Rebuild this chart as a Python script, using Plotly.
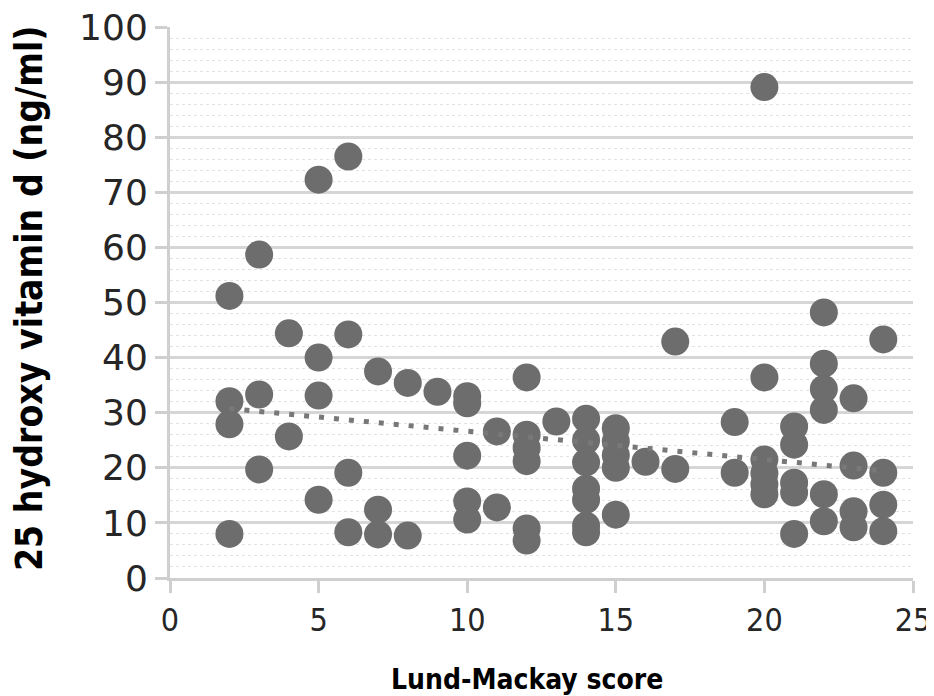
import plotly.graph_objects as go

# Lund-Mackay score (x) and 25 hydroxy vitamin d (y)
lm_score = (
    [2] * 4 + [3] * 3 + [4] * 2 + [5] * 4 + [6] * 4 + [7] * 3 + [8] * 2 + [9] * 1 +
    [10] * 5 + [11] * 2 + [12] * 6 + [13] * 1 + [14] * 7 + [15] * 5 + [16] * 1 +
    [17] * 2 + [19] * 2 + [20] * 6 + [21] * 5 + [22] * 6 + [23] * 4 + [24] * 4
)
vit_d = [
    51.2, 32.1, 27.9, 8.0,
    58.7, 33.3, 19.7,
    44.4, 25.7,
    72.3, 40.0, 33.1, 14.2,
    76.5, 44.2, 19.1, 8.3,
    37.5, 12.4, 7.9,
    35.4, 7.7,
    33.8,
    33.0, 31.7, 22.2, 13.9, 10.6,
    26.6, 12.8,
    36.4, 26.0, 23.6, 21.2, 9.0, 6.8,
    28.4,
    28.9, 25.0, 21.0, 16.2, 14.2, 9.5, 8.3,
    27.2, 24.8, 22.3, 20.0, 11.5,
    21.1,
    42.9, 19.8,
    28.3, 19.1,
    89.1, 36.4, 21.5, 19.0, 17.0, 15.2,
    27.5, 24.2, 17.3, 15.5, 8.0,
    48.2, 38.9, 34.3, 30.5, 15.2, 10.3,
    32.6, 20.4, 12.1, 9.2,
    43.3, 19.1, 13.3, 8.5,
]

# Linear trendline endpoints (as drawn)
trend_x = [2, 24]
trend_y = [30.75, 19.45]

x_ticks = [0, 5, 10, 15, 20, 25]
y_ticks = [0, 10, 20, 30, 40, 50, 60, 70, 80, 90, 100]

x_title = "Lund-Mackay score"
y_title = "25 hydroxy vitamin d (ng/ml)"

# page has an 8px body margin; figure coordinates are page minus 8
L, R, T, B = 162, 20.5, 18.5, 117.5
W, H = 926, 688
PW, PH = W - L - R, H - T - B

fig = go.Figure()
fig.add_trace(go.Scatter(
    x=lm_score, y=vit_d, mode="markers",
    marker=dict(size=28, color="rgb(109,109,109)", line=dict(width=0)),
    showlegend=False, hoverinfo="x+y",
))
fig.add_trace(go.Scatter(
    x=trend_x, y=trend_y, mode="lines",
    line=dict(color="rgb(120,120,120)", width=5, dash="5px,10px"),
    showlegend=False, hoverinfo="skip",
))

fig.update_layout(
    width=W, height=H,
    margin=dict(l=L, r=R, t=T, b=B),
    paper_bgcolor="white", plot_bgcolor="white",
    xaxis=dict(
        range=[0, 25], tickvals=x_ticks, ticktext=[str(v) for v in x_ticks],
        showgrid=False, zeroline=False, automargin=False,
        showline=True, linecolor="#cfcfcf", linewidth=3,
        ticks="outside", ticklen=12, tickwidth=3, tickcolor="#cfcfcf",
        ticklabelstandoff=0, ticklabeloverflow="allow",
        tickfont=dict(family="Liberation Sans Narrow, DejaVu Sans Condensed", size=32, color="#262626"),
    ),
    yaxis=dict(
        range=[0, 100], tickvals=y_ticks, ticktext=[str(v) for v in y_ticks],
        showgrid=True, gridcolor="#d6d6d6", gridwidth=2.5,
        minor=dict(dtick=2, showgrid=True, gridcolor="#e2e2e2", gridwidth=1, griddash="dot"),
        zeroline=False, automargin=False,
        showline=True, linecolor="#cfcfcf", linewidth=3,
        ticks="outside", ticklen=12, tickwidth=3, tickcolor="#cfcfcf",
        ticklabelstandoff=0, ticklabeloverflow="allow",
        tickfont=dict(family="DejaVu Sans", size=36, color="#262626"),
    ),
    annotations=[
        dict(text="<b>" + x_title + "</b>", xref="paper", yref="paper",
             x=(519 - L) / PW, y=-(672 - (H - B)) / PH, xanchor="center", yanchor="middle",
             showarrow=False,
             font=dict(family="DejaVu Sans Condensed", size=28, color="black")),
        dict(text="<b>" + y_title + "</b>", xref="paper", yref="paper",
             x=-(L - 21) / PW, y=((H - B) - 290) / PH, xanchor="center", yanchor="middle",
             textangle=-90, showarrow=False,
             font=dict(family="DejaVu Sans Condensed", size=37, color="black")),
    ],
)

fig.write_html("out.html")
